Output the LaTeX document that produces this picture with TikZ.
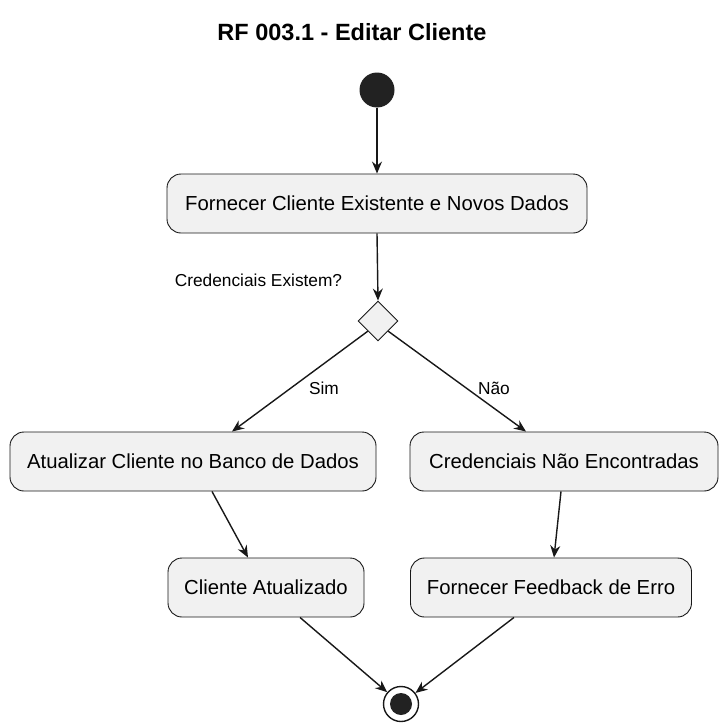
\documentclass[tikz,border=0pt]{standalone}
\usepackage{fontspec}
\setmainfont{Liberation Sans}
\usetikzlibrary{shapes.geometric,arrows.meta}
\definecolor{ln}{HTML}{181818}
\definecolor{bx}{HTML}{F1F1F1}
\definecolor{dot}{HTML}{222222}
\begin{document}
\begin{tikzpicture}[x=1pt,y=-1pt,
  actbox/.style={draw=ln,fill=bx,line width=0.9pt,rounded corners=14pt,minimum height=59pt,inner sep=0pt,font=\fontsize{20.3}{24}\selectfont,text=black},
  flow/.style={draw=ln,line width=1.4pt,-{Stealth[length=12pt,width=10pt,inset=4pt]}},
  lbl/.style={font=\fontsize{17.3}{20}\selectfont,text=black,inner sep=0pt}]
\useasboundingbox (0,0) rectangle (727,728);
\node[font=\bfseries\fontsize{23.5}{27}\selectfont,text=black] (title) at (352,32) {RF 003.1 - Editar Cliente};
\node[circle,fill=dot,minimum size=35pt,inner sep=0pt] (start) at (377,90) {};
\node[actbox,minimum width=420pt] (prov) at (377,203.5) {Fornecer Cliente Existente e Novos Dados};
\node[lbl] (q) at (258.5,280) {Credenciais Existem?};
\node[diamond,draw=ln,fill=bx,line width=0.9pt,minimum width=40pt,minimum height=40pt,inner sep=0pt] (dec) at (378,321) {};
\node[actbox,minimum width=366pt] (upd) at (193,461.5) {Atualizar Cliente no Banco de Dados};
\node[actbox,minimum width=308pt] (nf) at (564,461.5) {Credenciais Não Encontradas};
\node[actbox,minimum width=196pt] (ok) at (266,587.5) {Cliente Atualizado};
\node[actbox,minimum width=281pt] (fb) at (551,587.5) {Fornecer Feedback de Erro};
\node[circle,draw=ln,fill=white,line width=1.4pt,minimum size=35pt,inner sep=0pt] (end) at (401,704) {};
\node[circle,fill=dot,minimum size=22pt,inner sep=0pt] (endin) at (401,704) {};
\node[lbl] (sim) at (324,388) {Sim};
\node[lbl] (nao) at (494,388) {Não};
\draw[flow] (start) -- (prov.north);
\draw[flow] (prov.south) -- (dec.north);
\draw[flow] (dec.south west) -- ([xshift=39pt]upd.north);
\draw[flow] (dec.south east) -- ([xshift=-38pt]nf.north);
\draw[flow] ([xshift=19pt]upd.south) -- ([xshift=-18pt]ok.north);
\draw[flow] ([xshift=-3pt]nf.south) -- ([xshift=3pt]fb.north);
\draw[flow] ([xshift=34pt]ok.south) -- (end);
\draw[flow] ([xshift=-37pt]fb.south) -- (end);
\end{tikzpicture}
\end{document}
